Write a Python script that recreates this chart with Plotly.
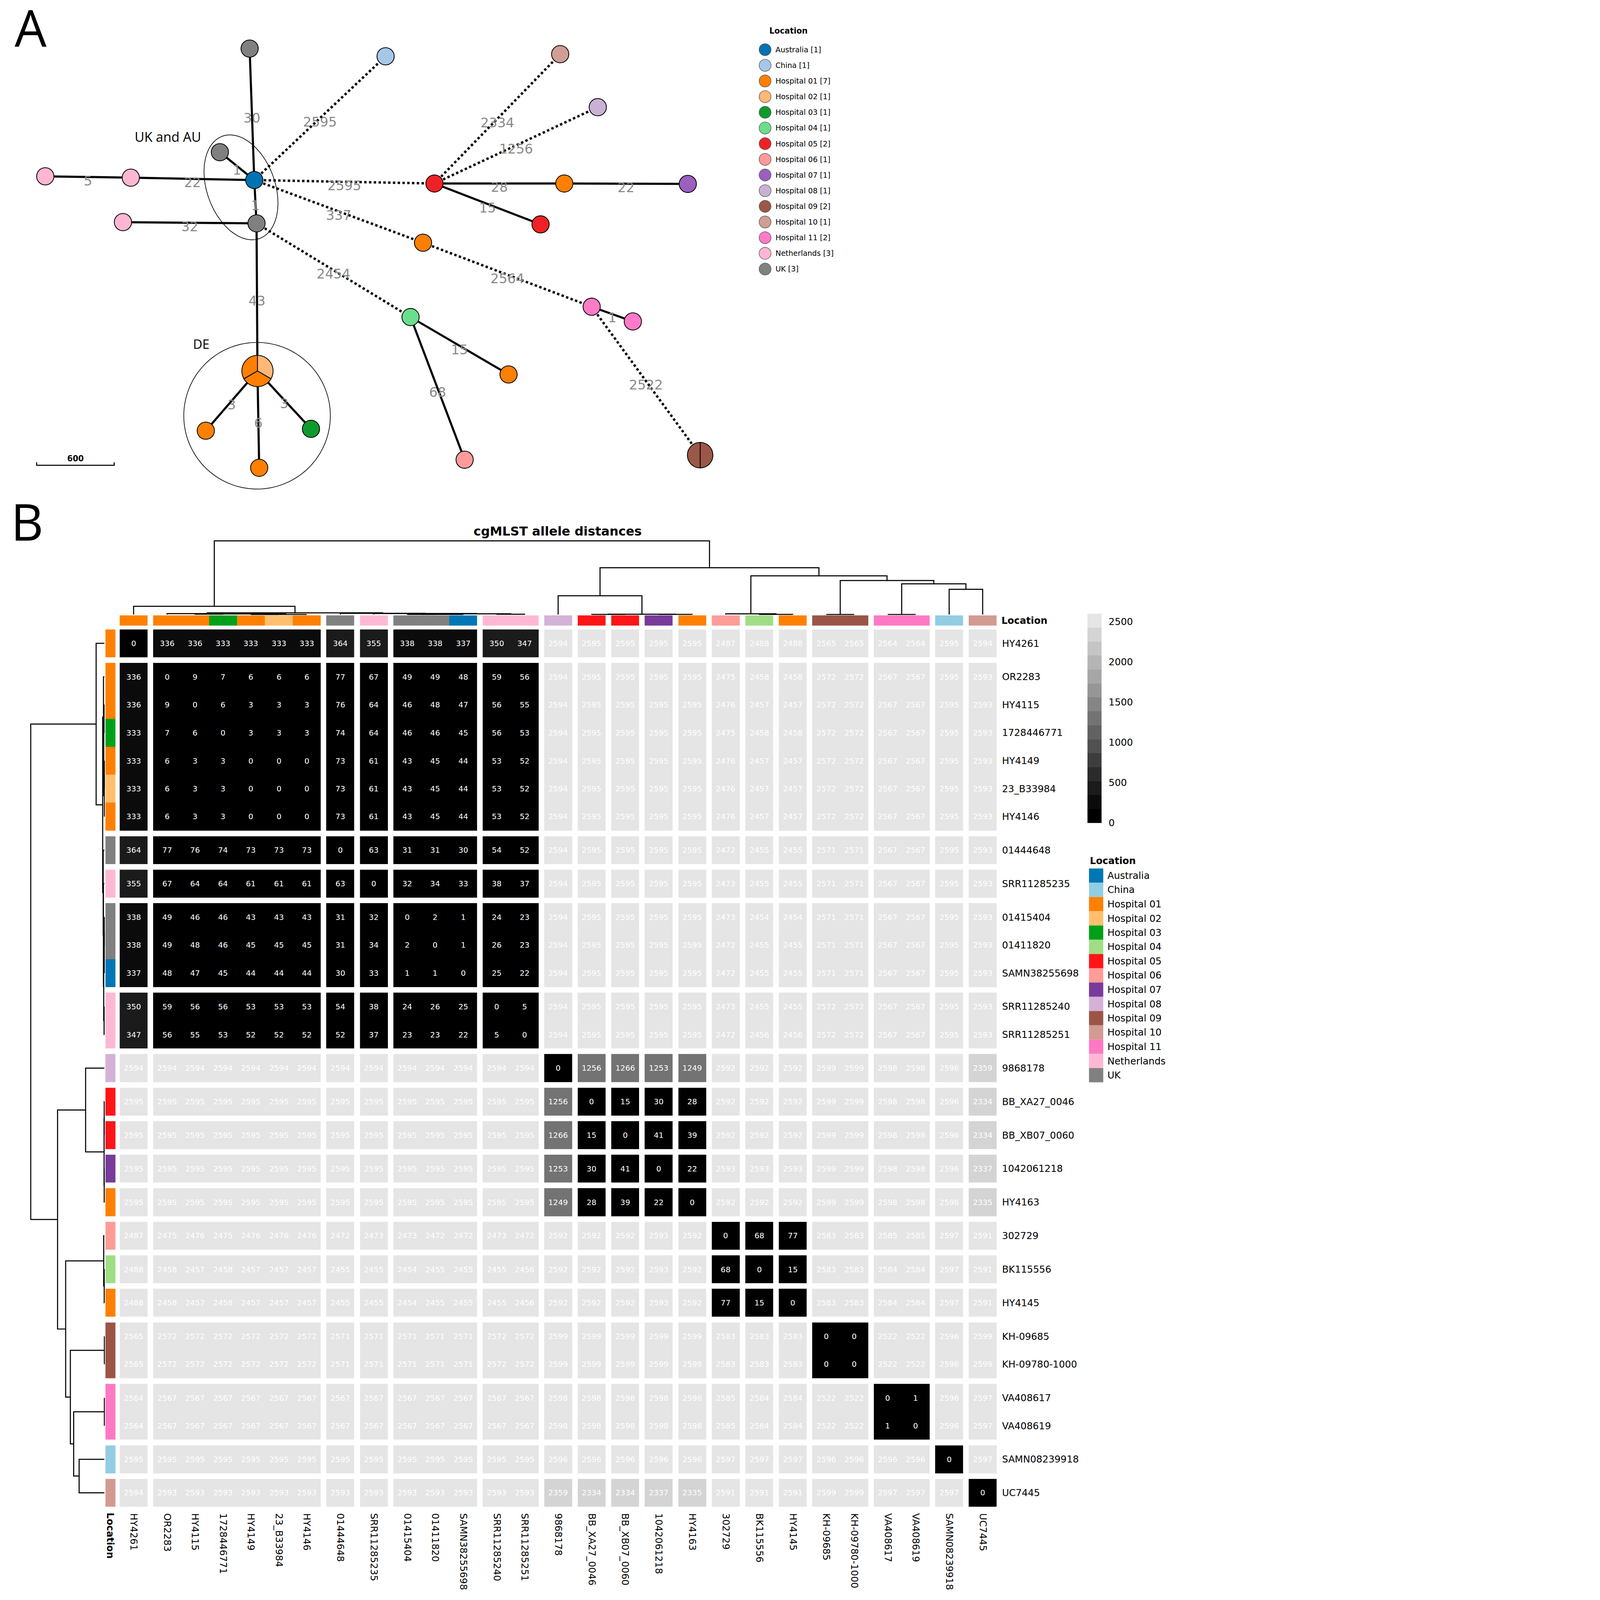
import math
import plotly.graph_objects as go

W, H = 4424, 6025

# ---------------- data ----------------
SAMPLES = ["HY4261", "OR2283", "HY4115", "1728446771", "HY4149", "23_B33984", "HY4146",
           "01444648", "SRR11285235", "01415404", "01411820", "SAMN38255698",
           "SRR11285240", "SRR11285251", "9868178", "BB_XA27_0046", "BB_XB07_0060",
           "1042061218", "HY4163", "302729", "BK115556", "HY4145", "KH-09685",
           "KH-09780-1000", "VA408617", "VA408619", "SAMN08239918", "UC7445"]

SAMPLE_LOCATION = ["Hospital 01", "Hospital 01", "Hospital 01", "Hospital 03", "Hospital 01",
                   "Hospital 02", "Hospital 01", "UK", "Netherlands", "UK", "UK", "Australia",
                   "Netherlands", "Netherlands", "Hospital 08", "Hospital 05", "Hospital 05",
                   "Hospital 07", "Hospital 01", "Hospital 06", "Hospital 04", "Hospital 01",
                   "Hospital 09", "Hospital 09", "Hospital 11", "Hospital 11", "China", "Hospital 10"]

LOCATIONS = ["Australia", "China", "Hospital 01", "Hospital 02", "Hospital 03", "Hospital 04",
             "Hospital 05", "Hospital 06", "Hospital 07", "Hospital 08", "Hospital 09",
             "Hospital 10", "Hospital 11", "Netherlands", "UK"]

COLORS_A = ["#0173B2", "#A6C8E8", "#FF8000", "#FFB877", "#0E9B2D", "#6ADE8A", "#EE2226",
            "#FF9A9A", "#9B5FBF", "#C9B1D6", "#9B5848", "#D19E95", "#FF7BC8", "#FFB6D5", "#808080"]

COLORS_B = ["#0077B4", "#92CDE3", "#FF8000", "#FFBF6F", "#00A01A", "#A0DE86", "#FF1418",
            "#FF9C98", "#783A9B", "#D4B1D6", "#9B5547", "#D29B92", "#FF78C4", "#FFB8D4", "#808080"]

GROUP_SIZES = [1, 6, 1, 1, 3, 2, 1, 1, 1, 1, 1, 1, 1, 1, 2, 2, 1, 1]

DIST = [
    [0, 336, 336, 333, 333, 333, 333, 364, 355, 338, 338, 337, 350, 347, 2594, 2595, 2595, 2595, 2595, 2487, 2488, 2488, 2565, 2565, 2564, 2564, 2595, 2594],
    [336, 0, 9, 7, 6, 6, 6, 77, 67, 49, 49, 48, 59, 56, 2594, 2595, 2595, 2595, 2595, 2475, 2458, 2458, 2572, 2572, 2567, 2567, 2595, 2593],
    [336, 9, 0, 6, 3, 3, 3, 76, 64, 46, 48, 47, 56, 55, 2594, 2595, 2595, 2595, 2595, 2476, 2457, 2457, 2572, 2572, 2567, 2567, 2595, 2593],
    [333, 7, 6, 0, 3, 3, 3, 74, 64, 46, 46, 45, 56, 53, 2594, 2595, 2595, 2595, 2595, 2475, 2458, 2458, 2572, 2572, 2567, 2567, 2595, 2593],
    [333, 6, 3, 3, 0, 0, 0, 73, 61, 43, 45, 44, 53, 52, 2594, 2595, 2595, 2595, 2595, 2476, 2457, 2457, 2572, 2572, 2567, 2567, 2595, 2593],
    [333, 6, 3, 3, 0, 0, 0, 73, 61, 43, 45, 44, 53, 52, 2594, 2595, 2595, 2595, 2595, 2476, 2457, 2457, 2572, 2572, 2567, 2567, 2595, 2593],
    [333, 6, 3, 3, 0, 0, 0, 73, 61, 43, 45, 44, 53, 52, 2594, 2595, 2595, 2595, 2595, 2476, 2457, 2457, 2572, 2572, 2567, 2567, 2595, 2593],
    [364, 77, 76, 74, 73, 73, 73, 0, 63, 31, 31, 30, 54, 52, 2594, 2595, 2595, 2595, 2595, 2472, 2455, 2455, 2571, 2571, 2567, 2567, 2595, 2593],
    [355, 67, 64, 64, 61, 61, 61, 63, 0, 32, 34, 33, 38, 37, 2594, 2595, 2595, 2595, 2595, 2473, 2455, 2455, 2571, 2571, 2567, 2567, 2595, 2593],
    [338, 49, 46, 46, 43, 43, 43, 31, 32, 0, 2, 1, 24, 23, 2594, 2595, 2595, 2595, 2595, 2473, 2454, 2454, 2571, 2571, 2567, 2567, 2595, 2593],
    [338, 49, 48, 46, 45, 45, 45, 31, 34, 2, 0, 1, 26, 23, 2594, 2595, 2595, 2595, 2595, 2472, 2455, 2455, 2571, 2571, 2567, 2567, 2595, 2593],
    [337, 48, 47, 45, 44, 44, 44, 30, 33, 1, 1, 0, 25, 22, 2594, 2595, 2595, 2595, 2595, 2472, 2455, 2455, 2571, 2571, 2567, 2567, 2595, 2593],
    [350, 59, 56, 56, 53, 53, 53, 54, 38, 24, 26, 25, 0, 5, 2594, 2595, 2595, 2595, 2595, 2473, 2455, 2455, 2572, 2572, 2567, 2567, 2595, 2593],
    [347, 56, 55, 53, 52, 52, 52, 52, 37, 23, 23, 22, 5, 0, 2594, 2595, 2595, 2595, 2595, 2472, 2456, 2456, 2572, 2572, 2567, 2567, 2595, 2593],
    [2594, 2594, 2594, 2594, 2594, 2594, 2594, 2594, 2594, 2594, 2594, 2594, 2594, 2594, 0, 1256, 1266, 1253, 1249, 2592, 2592, 2592, 2599, 2599, 2598, 2598, 2596, 2359],
    [2595, 2595, 2595, 2595, 2595, 2595, 2595, 2595, 2595, 2595, 2595, 2595, 2595, 2595, 1256, 0, 15, 30, 28, 2592, 2592, 2592, 2599, 2599, 2598, 2598, 2596, 2334],
    [2595, 2595, 2595, 2595, 2595, 2595, 2595, 2595, 2595, 2595, 2595, 2595, 2595, 2595, 1266, 15, 0, 41, 39, 2592, 2592, 2592, 2599, 2599, 2598, 2598, 2596, 2334],
    [2595, 2595, 2595, 2595, 2595, 2595, 2595, 2595, 2595, 2595, 2595, 2595, 2595, 2595, 1253, 30, 41, 0, 22, 2593, 2593, 2593, 2599, 2599, 2598, 2598, 2596, 2337],
    [2595, 2595, 2595, 2595, 2595, 2595, 2595, 2595, 2595, 2595, 2595, 2595, 2595, 2595, 1249, 28, 39, 22, 0, 2592, 2592, 2592, 2599, 2599, 2598, 2598, 2596, 2335],
    [2487, 2475, 2476, 2475, 2476, 2476, 2476, 2472, 2473, 2473, 2472, 2472, 2473, 2472, 2592, 2592, 2592, 2593, 2592, 0, 68, 77, 2583, 2583, 2585, 2585, 2597, 2591],
    [2488, 2458, 2457, 2458, 2457, 2457, 2457, 2455, 2455, 2454, 2455, 2455, 2455, 2456, 2592, 2592, 2592, 2593, 2592, 68, 0, 15, 2583, 2583, 2584, 2584, 2597, 2591],
    [2488, 2458, 2457, 2458, 2457, 2457, 2457, 2455, 2455, 2454, 2455, 2455, 2455, 2456, 2592, 2592, 2592, 2593, 2592, 77, 15, 0, 2583, 2583, 2584, 2584, 2597, 2591],
    [2565, 2572, 2572, 2572, 2572, 2572, 2572, 2571, 2571, 2571, 2571, 2571, 2572, 2572, 2599, 2599, 2599, 2599, 2599, 2583, 2583, 2583, 0, 0, 2522, 2522, 2596, 2599],
    [2565, 2572, 2572, 2572, 2572, 2572, 2572, 2571, 2571, 2571, 2571, 2571, 2572, 2572, 2599, 2599, 2599, 2599, 2599, 2583, 2583, 2583, 0, 0, 2522, 2522, 2596, 2599],
    [2564, 2567, 2567, 2567, 2567, 2567, 2567, 2567, 2567, 2567, 2567, 2567, 2567, 2567, 2598, 2598, 2598, 2598, 2598, 2585, 2584, 2584, 2522, 2522, 0, 1, 2596, 2597],
    [2564, 2567, 2567, 2567, 2567, 2567, 2567, 2567, 2567, 2567, 2567, 2567, 2567, 2567, 2598, 2598, 2598, 2598, 2598, 2585, 2584, 2584, 2522, 2522, 1, 0, 2596, 2597],
    [2595, 2595, 2595, 2595, 2595, 2595, 2595, 2595, 2595, 2595, 2595, 2595, 2595, 2595, 2596, 2596, 2596, 2596, 2596, 2597, 2597, 2597, 2596, 2596, 2596, 2596, 0, 2597],
    [2594, 2593, 2593, 2593, 2593, 2593, 2593, 2593, 2593, 2593, 2593, 2593, 2593, 2593, 2359, 2334, 2334, 2337, 2335, 2591, 2591, 2591, 2599, 2599, 2597, 2597, 2597, 0],
]

# dendrogram merges: (node a, node b, relative height); leaves 0..27, merges numbered from 28
DENDRO_MERGES = [
    (4, 5, 0.0), (28, 6, 0.0), (2, 3, 0.5), (30, 29, 0.8), (1, 31, 1.2),
    (9, 10, 0.1), (33, 11, 0.15), (12, 13, 0.4), (34, 35, 0.9), (8, 36, 1.3),
    (7, 37, 1.6), (32, 38, 2.3), (0, 39, 11.2),
    (15, 16, 0.2), (17, 18, 0.2), (41, 42, 0.4), (14, 43, 25.5),
    (20, 21, 0.2), (19, 45, 0.9), (22, 23, 0.0), (24, 25, 0.0), (26, 27, 34.3),
    (48, 49, 41.7), (47, 50, 46.2), (46, 51, 52.6), (44, 52, 63.6), (40, 53, 100.0),
]

# minimum spanning tree (panel A): nodes = samples they hold, layout position (px)
NODE_SAMPLES = [[7], [26], [27], [14], [10], [11], [9], [12], [13], [8], [15], [18], [17],
                [16], [0], [20], [24], [25], [21], [19], [22, 23], [5, 6, 4], [2], [3], [1]]
NODE_X = [940, 1452, 2109.5, 2251, 828, 957.5, 966, 170.5, 492.5, 463, 1636, 2125, 2590,
          2035.5, 1593, 1546, 2228, 2383, 1915, 1749.6, 2636.5, 969.5, 775, 1171, 976]
NODE_Y = [183, 212, 204, 403.5, 573, 678, 841, 664, 669, 836.5, 691, 691, 692.5,
          845, 914, 1194, 1155, 1210.5, 1410, 1731, 1714, 1397, 1622, 1615, 1761.5]
EDGES = [(5, 0), (5, 1), (5, 4), (5, 6), (5, 8), (8, 7), (6, 9), (5, 10), (5, 14), (6, 15),
         (6, 21), (10, 2), (10, 3), (10, 11), (11, 12), (10, 13), (14, 16), (16, 17), (16, 20),
         (15, 18), (15, 19), (21, 22), (21, 23), (21, 24)]

CB_TICKS = [0, 500, 1000, 1500, 2000, 2500]

# ---------------- style ----------------
FONT = "DejaVu Sans"
GRAYS = [0, 11, 27, 43, 61, 81, 98, 115, 133, 150, 166, 181, 197, 212, 229]
ZMAX = 2600
GAP = 0.2
LONG_EDGE = 200
LABEL_DY = 19
NODE_R = 34

def py(v):
    return 1 - v / H

def px(v):
    return v / W

# ---------------- panel B geometry ----------------
slots, widths = [], []
idx = 0
for gi, size in enumerate(GROUP_SIZES):
    if gi > 0:
        slots.append(None)
        widths.append(GAP)
    for _ in range(size):
        slots.append(idx)
        widths.append(1.0)
        idx += 1
edges = [0.0]
for w_ in widths:
    edges.append(edges[-1] + w_)
TOTAL = edges[-1]
centers = [0.0] * len(SAMPLES)
for k, s in enumerate(slots):
    if s is not None:
        centers[s] = (edges[k] + edges[k + 1]) / 2

loc_index = [LOCATIONS.index(l) for l in SAMPLE_LOCATION]

gray_scale = []
for k, g in enumerate(GRAYS):
    c = f"rgb({g},{g},{g})"
    gray_scale += [[k / len(GRAYS), c], [(k + 1) / len(GRAYS), c]]
loc_scale = []
for k, c in enumerate(COLORS_B):
    loc_scale += [[k / len(COLORS_B), c], [(k + 1) / len(COLORS_B), c]]

z = [[(DIST[r][c] if (r is not None and c is not None) else None) for c in slots] for r in slots]
txt = [[(str(DIST[r][c]) if (r is not None and c is not None) else "") for c in slots] for r in slots]

fig = go.Figure()

fig.add_trace(go.Heatmap(
    z=z, x=edges, y=edges, text=txt, texttemplate="%{text}",
    textfont=dict(family=FONT, size=29, color="white"),
    colorscale=gray_scale, zmin=0, zmax=ZMAX, xaxis="x2", yaxis="y2", hoverinfo="skip",
    colorbar=dict(x=px(4095), xanchor="left", y=py(2311), yanchor="top",
                  len=788, lenmode="pixels", thickness=53, thicknessmode="pixels",
                  xpad=0, ypad=0, outlinewidth=0, tickvals=CB_TICKS,
                  ticks="outside", ticklen=20, tickcolor="rgba(0,0,0,0)",
                  tickfont=dict(family=FONT, size=36, color="black"))))

# annotation strips
fig.add_trace(go.Heatmap(
    z=[[(loc_index[c] + 0.5 if c is not None else None) for c in slots]], x=edges, y=[0, 1],
    colorscale=loc_scale, zmin=0, zmax=len(COLORS_B), showscale=False,
    xaxis="x2", yaxis="y3", hoverinfo="skip"))
fig.add_trace(go.Heatmap(
    z=[[(loc_index[r] + 0.5 if r is not None else None)] for r in slots], x=[0, 1], y=edges,
    colorscale=loc_scale, zmin=0, zmax=len(COLORS_B), showscale=False,
    xaxis="x3", yaxis="y2", hoverinfo="skip"))

# dendrograms
pos = list(centers)
hgt = [0.0] * len(centers)
seg_p, seg_h = [], []
for a, b, h in DENDRO_MERGES:
    seg_p += [pos[a], pos[a], pos[b], pos[b], None]
    seg_h += [hgt[a], h, h, hgt[b], None]
    pos.append((pos[a] + pos[b]) / 2)
    hgt.append(h)
fig.add_trace(go.Scatter(x=seg_p, y=seg_h, mode="lines", line=dict(color="black", width=4),
                         xaxis="x2", yaxis="y4", hoverinfo="skip"))
fig.add_trace(go.Scatter(x=seg_h, y=seg_p, mode="lines", line=dict(color="black", width=4),
                         xaxis="x4", yaxis="y2", hoverinfo="skip"))

# legend B
fig.add_trace(go.Scatter(
    x=[4127.6] * len(LOCATIONS), y=[3297 + 53.7 * i for i in range(len(LOCATIONS))],
    mode="markers", marker=dict(symbol="square", size=53.7, color=COLORS_B, line=dict(width=0)),
    xaxis="x", yaxis="y", hoverinfo="skip"))

# ---------------- panel A ----------------
t = [2 * math.pi * k / 200 for k in range(201)]
fig.add_trace(go.Scatter(x=[968 + 276 * math.cos(v) for v in t], y=[1565.5 + 276 * math.sin(v) for v in t],
                         mode="lines", line=dict(color="black", width=2.5), hoverinfo="skip"))
ang = math.radians(20)
ux, uy = -math.sin(ang), -math.cos(ang)
vx, vy = math.cos(ang), -math.sin(ang)
fig.add_trace(go.Scatter(
    x=[907.5 + 205 * math.cos(v) * ux + 128 * math.sin(v) * vx for v in t],
    y=[705.5 + 205 * math.cos(v) * uy + 128 * math.sin(v) * vy for v in t],
    mode="lines", line=dict(color="black", width=2.5), hoverinfo="skip"))

sx, sy, dx_, dy_ = [], [], [], []
lx, ly, lt = [], [], []
for a, b in EDGES:
    d = DIST[NODE_SAMPLES[a][0]][NODE_SAMPLES[b][0]]
    if d > LONG_EDGE:
        dx_ += [NODE_X[a], NODE_X[b], None]
        dy_ += [NODE_Y[a], NODE_Y[b], None]
    else:
        sx += [NODE_X[a], NODE_X[b], None]
        sy += [NODE_Y[a], NODE_Y[b], None]
    lx.append((NODE_X[a] + NODE_X[b]) / 2)
    ly.append((NODE_Y[a] + NODE_Y[b]) / 2 + LABEL_DY)
    lt.append(str(d))
fig.add_trace(go.Scatter(x=sx, y=sy, mode="lines", line=dict(color="black", width=8), hoverinfo="skip"))
fig.add_trace(go.Scatter(x=dx_, y=dy_, mode="lines", line=dict(color="black", width=9, dash="9px,9px"),
                         hoverinfo="skip"))

single = [i for i, s in enumerate(NODE_SAMPLES) if len(s) == 1]
fig.add_trace(go.Scatter(
    x=[NODE_X[i] for i in single], y=[NODE_Y[i] for i in single], mode="markers",
    marker=dict(size=2 * NODE_R - 3, color=[COLORS_A[loc_index[NODE_SAMPLES[i][0]]] for i in single],
                line=dict(color="black", width=3)), hoverinfo="skip"))
for i, s in enumerate(NODE_SAMPLES):
    if len(s) < 2:
        continue
    r = NODE_R * math.sqrt(len(s))
    for k, smp in enumerate(s):
        a0 = 90 - 360 * k / len(s)
        a1 = 90 - 360 * (k + 1) / len(s)
        xs, ys = [NODE_X[i]], [NODE_Y[i]]
        for m in range(41):
            th = math.radians(a0 + (a1 - a0) * m / 40)
            xs.append(NODE_X[i] + r * math.cos(th))
            ys.append(NODE_Y[i] - r * math.sin(th))
        xs.append(NODE_X[i]); ys.append(NODE_Y[i])
        fig.add_trace(go.Scatter(x=xs, y=ys, mode="lines", fill="toself",
                                 fillcolor=COLORS_A[loc_index[smp]],
                                 line=dict(color="black", width=3), hoverinfo="skip"))

fig.add_trace(go.Scatter(x=lx, y=ly, mode="text", text=lt,
                         textfont=dict(family=FONT, size=50, color="#888888"), hoverinfo="skip"))

fig.add_trace(go.Scatter(x=[138, 138, 430, 430], y=[1741, 1752, 1752, 1741], mode="lines",
                         line=dict(color="black", width=4), hoverinfo="skip"))

counts = [SAMPLE_LOCATION.count(l) for l in LOCATIONS]
fig.add_trace(go.Scatter(
    x=[2881] * len(LOCATIONS), y=[187 + 59 * i for i in range(len(LOCATIONS))], mode="markers",
    marker=dict(size=45, color=COLORS_A, line=dict(color="#555555", width=2)), hoverinfo="skip"))

ann = []
for i, (l, c) in enumerate(zip(LOCATIONS, counts)):
    ann.append(dict(x=2918, y=187 + 59 * i, xref="x", yref="y", text=f"{l} [{c}]", showarrow=False,
                    xanchor="left", yanchor="middle", font=dict(family=FONT, size=28, color="black")))
    ann.append(dict(x=4168, y=3297 + 53.7 * i, xref="x", yref="y", text=l, showarrow=False,
                    xanchor="left", yanchor="middle", font=dict(family=FONT, size=36, color="black")))
ann += [
    dict(x=2895, y=116, xref="x", yref="y", text="<b>Location</b>", showarrow=False, xanchor="left",
         yanchor="middle", font=dict(family=FONT, size=30, color="black")),
    dict(x=4102, y=3241, xref="x", yref="y", text="<b>Location</b>", showarrow=False, xanchor="left",
         yanchor="middle", font=dict(family=FONT, size=36, color="black")),
    dict(x=3769, y=2336.5, xref="x", yref="y", text="<b>Location</b>", showarrow=False, xanchor="left",
         yanchor="middle", font=dict(family=FONT, size=36, color="black")),
    dict(x=416, y=5782, xref="x", yref="y", text="<b>Location</b>", showarrow=False, textangle=90,
         xanchor="center", yanchor="middle", font=dict(family=FONT, size=36, color="black")),
    dict(x=2100, y=2000, xref="x", yref="y", text="<b>cgMLST allele distances</b>", showarrow=False,
         xanchor="center", yanchor="middle", font=dict(family=FONT, size=47, color="black")),
    dict(x=114.5, y=103, xref="x", yref="y", text="A", showarrow=False, xanchor="center",
         yanchor="middle", font=dict(family="Open Sans", size=190, color="black")),
    dict(x=102, y=1962, xref="x", yref="y", text="B", showarrow=False, xanchor="center",
         yanchor="middle", font=dict(family="Open Sans", size=190, color="black")),
    dict(x=632, y=515, xref="x", yref="y", text="UK and AU", showarrow=False, xanchor="center",
         yanchor="middle", font=dict(family="Open Sans", size=50, color="black")),
    dict(x=758, y=1294, xref="x", yref="y", text="DE", showarrow=False, xanchor="center",
         yanchor="middle", font=dict(family="Open Sans", size=48, color="black")),
    dict(x=284, y=1726, xref="x", yref="y", text="<b>600</b>", showarrow=False, xanchor="center",
         yanchor="middle", font=dict(family=FONT, size=30, color="black")),
]

hidden = dict(visible=False, showgrid=False, zeroline=False, automargin=False)
fig.update_layout(
    width=W, height=H, margin=dict(l=0, r=0, t=0, b=0, pad=0),
    paper_bgcolor="white", plot_bgcolor="rgba(0,0,0,0)", showlegend=False,
    annotations=ann,
    xaxis=dict(domain=[0, 1], range=[0, W], anchor="y", **hidden),
    yaxis=dict(domain=[0, 1], range=[H, 0], anchor="x", **hidden),
    xaxis2=dict(domain=[px(450.5), px(3753)], range=[0, TOTAL], anchor="y2", showgrid=False,
                zeroline=False, showline=False, automargin=False,
                tickvals=centers, ticktext=SAMPLES, tickangle=90, ticks="outside", ticklen=16,
                tickcolor="rgba(0,0,0,0)", tickfont=dict(family=FONT, size=36, color="black")),
    yaxis2=dict(domain=[py(5674), py(2370)], range=[TOTAL, 0], anchor="x2", side="right",
                showgrid=False, zeroline=False, showline=False, automargin=False,
                tickvals=centers, ticktext=SAMPLES, ticks="outside", ticklen=12,
                tickcolor="rgba(0,0,0,0)", tickfont=dict(family=FONT, size=36, color="black")),
    yaxis3=dict(domain=[py(2356), py(2317)], range=[0, 1], anchor="x2", **hidden),
    xaxis3=dict(domain=[px(397), px(435)], range=[0, 1], anchor="y2", **hidden),
    yaxis4=dict(domain=[py(2316), py(2034)], range=[-0.7, 101.0], anchor="x2", **hidden),
    xaxis4=dict(domain=[px(113), px(395)], range=[101.0, -0.7], anchor="y2", **hidden),
)

POST = """
document.documentElement.style.overflow='hidden';
document.body.style.margin='0';
document.body.style.padding='0';
document.body.style.overflow='hidden';
var gdFit=document.getElementById('{plot_id}');
function fitFig(){
  var s=Math.min(window.innerWidth/%d, window.innerHeight/%d);
  if(!(s>0) || s>1) s=1;
  gdFit.style.transformOrigin='0 0';
  gdFit.style.transform='scale('+s+')';
}
fitFig();
window.addEventListener('resize', fitFig);
""" % (W, H)

fig.write_html("out.html", post_script=POST, config={"displayModeBar": False})
